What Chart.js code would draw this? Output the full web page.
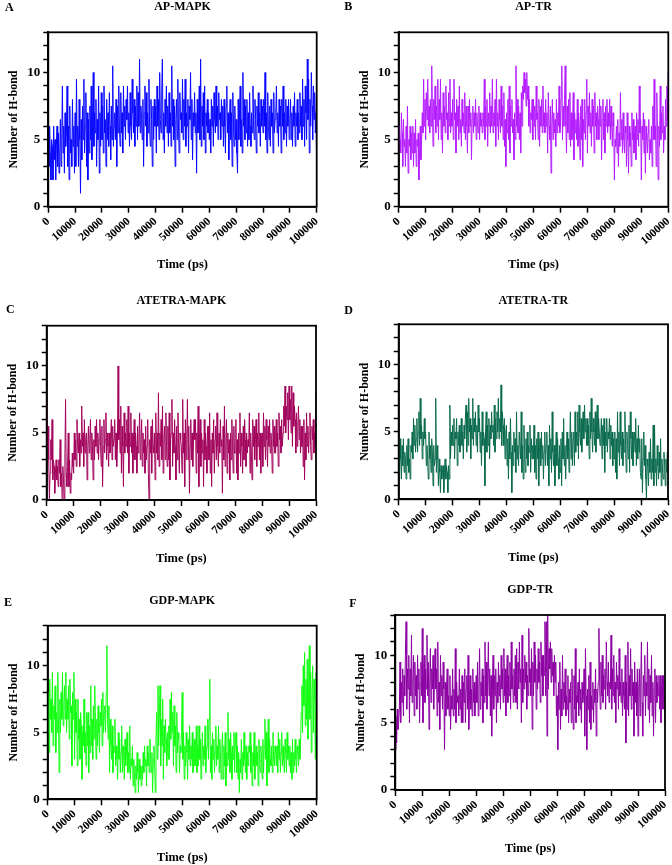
<!DOCTYPE html>
<html><head><meta charset="utf-8">
<script src="https://cdn.jsdelivr.net/npm/chart.js@4.4.1/dist/chart.umd.min.js"></script>
<style>
html,body{margin:0;padding:0;background:#fff;}
body{width:672px;height:865px;position:relative;overflow:hidden;}
canvas{position:absolute;}
.lbl{position:absolute;font-family:"Liberation Serif","Times New Roman",serif;font-weight:bold;font-size:12px;line-height:14px;color:#000;white-space:nowrap;}
</style></head><body>
<script>
// ---------------- DATA ----------------
const timeStepPs = 250;                 // sampling interval of the series (ps)
const xTickValues = [0,10000,20000,30000,40000,50000,60000,70000,80000,90000,100000];
const yTickValues = [0,1,2,3,4,5,6,7,8,9,10,11,12,13];
const yLabeledTicks = [0,5,10];
const panelLetters = ['A','B','C','D','E','F'];
const panelTitles = ['AP-MAPK','AP-TR','ATETRA-MAPK','ATETRA-TR','GDP-MAPK','GDP-TR'];
const xAxisTitle = 'Time (ps)';
const yAxisTitle = 'Number of H-bond';

const apMapk = [
5,3,6,4,2,5,4.5,2,6,3.5,5,2,4.5,6,3,5.5,2.5,4,6.5,3,
5,9,4,6,2.5,7,4.5,5.5,9,3,6,2,7.5,4,5,3,8,4.5,6,2.5,
7,3,9.5,4.5,6,3,8,5,1,6.5,3.5,7.5,5,9.5,4,6,8.5,3,7,2,
6.5,4,7.5,5,9,3.5,6,10,4.5,7,5.5,8,3,6.5,5,9,2.5,7,4.5,8.5,
5,7.5,4,9,5.5,6.5,3,8,5,7,4.5,8.5,6,3.5,7.5,5,10.5,4.5,6,7,
5,8,3,7.5,5.5,9,6,4.5,8.5,5.5,7,4,9,6,7.5,5,8,6.5,9,5.5,
7,4.5,8.5,6,5,9.5,7,5.5,8,4.5,7.5,6,9,5,8.5,6,11,5.5,7.5,6.5,
5,8,3,7,9,6,8.5,4.5,7,5.5,9.5,6,4.5,8,6.5,3,7.5,5,8,6,
7.5,4,9,6,8,5,10,6.5,5.5,8.5,11,5,7,4,8,6,9,5.5,7.5,4.5,
8.5,5.5,7,4.5,10.5,6,8,5,7.5,3,6.5,8,5,9.5,6,4,8.5,6.5,7,5.5,
9.5,5,8,6,9.5,4.5,7,6,8,4,7.5,6.5,10,5,8,3.5,7,6,8.5,5.5,
7,2.5,8,5.5,6.5,9,5,11,4.5,7.5,6,8.5,5,9,4,7,6,8,5.5,7,
5,6.5,4,8,6,7.5,4.5,8.5,6.5,5.5,9,6,7.5,5,8.5,6.5,7,5,8,6,
7.5,4.5,8,6,4,7.5,9,5.5,7,3.5,6.5,8,5,7,3,8.5,6,4.5,7.5,5,
6.5,4,2.5,8,5,7,9,4.5,6.5,4,10,6,8,5,7.5,5.5,8,4.5,7,5,
8.5,6,4.5,7,5.5,9,6,5,8,6.5,4,7.5,6,8.5,5.5,7,4.5,8,6,7.5,
5.5,8,6,10,5,7,4,8.5,6,5,7.5,4.5,8,6,7,4,8.5,5.5,6.5,7,
9,5.5,7,4.5,8,6,7.5,4,8,6,9,5,7,5.5,8,4.5,7.5,6,8,5,
6.5,8,5,7,4.5,7.5,6,8.5,4.5,7,6,8,5,7,5.5,8.5,6,7.5,5,9.5,
6,8,4.5,9,7,5,11,6.5,9.5,4,8,6,10,7.5,5,9,6.5,8.5,5.5,7,
3];

const apTr = [
4,6,5,4,7,5.5,3,6.5,4.5,5,3,6,4,7.5,2.5,5,4.5,6,3.5,5.5,
4,6,3,5.5,4,6.5,3,5,4.5,5.5,2,4,6,3.5,5,7,5.5,9.5,6,8,
5,8.5,6.5,9.5,6,7.5,5.5,8,6,10.5,7,4.5,8,6.5,9,5.5,7.5,6,9.5,5,
8,6.5,9.5,5,7,4,8.5,6,7.5,5.5,9,6.5,7,5,8.5,6,9.5,5.5,7,6,
8,5,9.5,6.5,7,4,8,6,7.5,5,9,5.5,6.5,4.5,8,6,7,5.5,8.5,5,
7.5,6,4,7.5,5.5,8,6,7,3.5,6.5,7.5,5.5,7,6,8,5,7,6,5.5,7.5,
5,7,6,6.5,5.5,7,6,9.5,5,7.5,6,8,4.5,7,6,8.5,5.5,7.5,6,9.5,
5.5,7,6,8,4.5,9.5,6,7,5,8,6.5,5.5,9,6,7.5,5,8.5,4.5,6.5,3,
7,5.5,8,5,9,4,7.5,6,8,5.5,6.5,3.5,7,5,10.5,6,8,5.5,7.5,5,
7,4,8.5,6,9,8,10,8.5,9.5,7.5,10,8,9,6,8,5.5,7,6.5,8,5,
8,6,7.5,5,9,6.5,7,5,8,4.5,7.5,6,8,5.5,9,6,7,5.5,8,6,
7,4,8.5,6,5,7.5,2.5,6,8,5,7,5.5,6.5,4.5,8,5.5,7,6,9,5.5,
6,8,10.5,5,7.5,6,8,10.5,6,4,7.5,5.5,8,5,8.5,4.5,7,5,6.5,8.5,
3.5,7,5.5,6.5,5,8,4.5,7,6,3.5,7.5,5,8,3,6.5,5.5,8,5,7,9.5,
4,7.5,6,8.5,5.5,7,4.5,8,6,7.5,4,8.5,6,7,5,7.5,6.5,5,8,6,
7.5,3.5,6.5,8,5,7,4,7.5,6,8,5.5,7,6,8,5,7.5,6,4.5,7,6,
2,5,4.5,6,4,6.5,3,5.5,4.5,8.5,5,6.5,4,7,5,4,6,5.5,3,7,
5,2.5,6,4.5,5.5,3,7,5,6.5,4,5.5,6,3.5,7,5,6.5,4.5,9,5.5,6.5,
2,6,5,7,4,6.5,2.5,6,5,4,5.5,6.5,3.5,5,4,6,3,7.5,5,9.5,
5,6,3,8.5,5.5,2,6,4.5,9,5,7,5.5,7.5,4,6,5,8,6,9,6.5,
10];

const atetraMapk = [
7.5,4,5.5,3,0,2,4.5,3,6,1.5,3,2.5,0.5,2,3,1.5,2.5,1,3,2,
4.5,1,2,0,2.5,1.5,0,3,7.5,2,1,2.5,5,1,3,0.5,2,1.5,3.5,2.5,
2,5,3,4.5,2.5,6,4,3.5,5,2.5,4.5,3.5,7,4,5,2.5,6,3.5,4.5,5,
1.5,4,5.5,3.5,4.5,6,3,5,4,1.5,4.5,3,5.5,4,6,3.5,5,3,4.5,6,
4,2.5,5.5,1,4,6,3.5,4.5,6.5,3,5,4,2.5,5,3.5,4.5,6,3,5.5,4,
4.5,6,3,5,2.5,4,10,4.5,6,3.5,7,2,5.5,4,1,6.5,3.5,5,4,6,
3.5,7,2,5,4,6.5,3.5,5,2,4.5,6,3,5,4,2,5.5,3.5,4.5,6.5,3,
4.5,6,2.5,5,3.5,4.5,2,5.5,3,4,6,2,0,4.5,3.5,5.5,2,6,4,3.5,
5,1.5,6.5,3.5,5,3,8,2.5,5,4,6,3,7,2,4.5,5.5,3,6.5,4,2.5,
5.5,3,6.5,1.5,4.5,5,7.5,2.5,5,3.5,6,4,1.5,5.5,3,6.5,4,2,5,4.5,
4,2,7.5,3.5,5,1,6,3,4.5,7.5,3,5.5,0.5,4,6,3,5,2.5,4.5,6,
4.5,6,2,5,3.5,7,1,4.5,6,2.5,5,3.5,4.5,1,6,3,5,4,2,5.5,
5.5,3,6.5,2,4.5,1,5,3.5,6,2,4.5,5.5,3,6.5,4,2.5,5,3.5,6,4,
4.5,0.5,5.5,3,7,2.5,4,6,2,5,3.5,4.5,1.5,5,3,6,4,2,5.5,3.5,
3.5,6,2,4.5,1.5,5,3.5,6.5,2.5,5,4,2,5.5,3,6,4.5,2.5,5,3.5,4.5,
4,6.5,2,5,3.5,1.5,6,4,5.5,3,4.5,6,2.5,5,4,6.5,3,5,2,4.5,
5,2.5,6.5,4,5.5,3,6,4.5,2.5,5.5,4,6,3.5,5,4.5,2,6,4,5.5,3.5,
3.5,6,4,5,2.5,6.5,4.5,5.5,3.5,6,4,5,7,5.5,8.5,5,7,6,8,4.5,
8.5,6,7.5,5,8.5,4,8,5.5,7,6,3.5,6.5,4,5.5,7,4.5,6,3.5,5.5,4,
5.5,2.5,6,1.5,5,3,6.5,4,5.5,3.5,5,6.5,4,3,5.5,4.5,6,3.5,5,4,
8];

const atetraTr = [
3.5,2,4.5,3,1.5,4,2.5,4.5,2,3.5,3,1.5,4,2.5,4.5,2,3,1.5,4,3.5,
5,3,6,4,5.5,3.5,4.5,6,3.5,5,6.5,4,7.5,4.5,5.5,3,5,4,6,4.5,
5,2.5,4,3,1.5,5,3,4,2,4.5,3.5,1,4,2.5,3,7.5,2,4,3,1,
3,2,0.5,2.5,1.5,2,2.5,0.5,2,3,1.5,2.5,2,0.5,2.5,1.5,7,3,5,4,
5.5,4,6,3,5,4.5,6,2.5,5,4,5.5,3.5,4.5,6,4,5,3,5.5,4.5,6,
7,3.5,6.5,4,7.5,5,6,3,5.5,4.5,7.5,4,6,5,6.5,4,5.5,3.5,7,5,
6,3.5,5,2.5,6.5,4,5,4.5,1,5,6.5,3.5,5.5,4,6,3,5.5,4.5,6.5,5,
5.5,4,7,3.5,6,4.5,6.5,5,7.5,4.5,6,5,8.5,4,6.5,5.5,4,6,3,5,
5.5,2.5,4.5,1.5,5,3,6,3.5,0.5,4,2.5,5,3.5,4.5,2,6.5,3,4,2.5,5,
5,3,6.5,2,4,1.5,5.5,3.5,2,4.5,3,5,2.5,4,3.5,5.5,2,4.5,3,4,
3,5.5,2,4,1.5,4.5,3,5,1,3.5,4.5,2.5,5,3,4,1.5,3.5,5,2.5,4,
5,2.5,4,1,5.5,3,4.5,2,6.5,3.5,2.5,4,1,3.5,5,2.5,4.5,3,1.5,4,
2,4.5,1,5,3,6,2.5,4,1.5,3.5,5,3,4.5,2,4,6.5,3,5,2.5,4.5,
5,2.5,6.5,3.5,5,4,6.5,3,7,5,4,6,3.5,5.5,6.5,4.5,7,5,6,4,
6,4,5.5,3,6.5,4.5,7.5,5,3.5,6,5,4,6.5,3.5,5.5,7,4.5,6,5,4,
4.5,6,3,5.5,4,6,2,5,4,6,3.5,5,4.5,6,3,5.5,4,5,2.5,4.5,
3,5,2,4.5,1.5,6.5,3.5,5,2.5,6.5,4,3,5,2.5,4.5,3.5,6.5,4,2,5,
4,3,5.5,2,6.5,4.5,3,5,2.5,4,5,3.5,6,2.5,4.5,3,5.5,3.5,4.5,2,
1.5,4.5,0.5,3,5,2.5,4,1.5,0,3,2.5,1,3.5,2,4.5,1.5,3,2,5.5,1,
5.5,2,3,1,4,2.5,1.5,3.5,2,4.5,1,3,2,1.5,3.5,2.5,1,3,2,3.5,
3];

const gdpMapk = [
4,8,3.5,9,6,7.5,5,9.5,4,7,6,8.5,3.5,6.5,5,9.5,6,2,7.5,5,
8,6,9.5,5.5,7,8.5,6,9.5,5,7.5,6,8.5,4.5,9,6.5,7,2.5,8,6,9.5,
3,7.5,5,6.5,2.5,7.5,4.5,6,3,6.5,5.5,1.5,5,4,7.5,3.5,5,2.5,6.5,4,
6.5,2,5.5,3.5,8.5,4,6,3,7,4.5,8.5,5.5,3,6,4,7,5,3.5,6.5,5.5,
7.5,4,8,5,6.5,7,5,8,11.5,6,4.5,7,2,6,4,3,5.5,2,4,3.5,
6,2.5,4,3,1.5,5,3,4.5,2,3.5,5.5,2,4,3,1.5,4.5,2.5,3.5,5,2,
3.5,2,5.5,1.5,3,2.5,4,1,3,2,0.5,2.5,1.5,3.5,2,0.5,3,1.5,2.5,1,
2.5,1.5,3.5,2,4,2.5,3,1,4,2.5,3.5,2,4.5,3,2,3.5,0.5,3,4,2.5,
0.5,4.5,6.5,3,8.5,4,6,8.5,2.5,6,4,7.5,1.5,5.5,3.5,6,4.5,2.5,5,3,
5.5,3,7.5,4.5,8,5,6.5,2.5,7,4,5.5,2,6.5,3.5,5,4.5,2,4,3.5,5,
8,3,5,1.5,4,2.5,5,3.5,1.5,4.5,3,5.5,2.5,4,3,5,2,3.5,4.5,2.5,
3,5.5,2,4,2.5,5.5,3,4.5,1.5,3.5,5,2.5,4,3,5.5,2,3.5,4,6,3,
6,9,2,4,1.5,5,3,4.5,2,3.5,5.5,2.5,4,3,5.5,2,4.5,3,1.5,4,
5,1.5,4,2.5,5,1,3.5,2.5,6.5,3,4.5,2,5,3.5,1.5,4,3,5,2,4.5,
5,2,4,1.5,3.5,0.5,3,2,4.5,1.5,3.5,2.5,5,3,2,4,1.5,3.5,2.5,4,
3.5,5,2,4,1,3.5,2.5,5,1.5,3,4,2.5,3.5,1,4.5,3,2,4,3,1.5,
4.5,2,4,6,3,5,1,3.5,6,2,4.5,3,2.5,4,2,5,3,2.5,4,3.5,
2.5,4,2,5,3,4.5,2,3.5,5,2.5,4,3,2,4.5,3.5,2,5,3,4,2.5,
4,2,3.5,1.5,4.5,2,3.5,2.5,4.5,3,2,4,3.5,2.5,4.5,3,4,6.5,8.5,5,
10,7,11,5.5,9,6,10.5,4.5,8,11.5,6,9.5,3.5,8,10,5,9,7.5,3,9.5,
6.5];

const gdpTr = [
3,5.5,3.5,6,4.5,5,6,9.5,5,8,6.5,9,5.5,8.5,7,10,12.5,6,9,7.5,
10,5,9,7,11.5,6.5,8,10,5.5,9.5,7,8.5,6,10,7.5,9,5,8,9.5,7,
12,5,8.5,10,6.5,9,7.5,11.5,7,9.5,4.5,8,10.5,6.5,9,7.5,10,6,8.5,10.5,
7.5,9,5.5,11,6.5,8,4.5,10,7,8.5,6,9.5,7.5,3,8,5.5,7.5,9,6,7,
5.5,8.5,4.5,7,6,9,5.5,7.5,6,10.5,5,8,6.5,7,5.5,9,6,7.5,5,8.5,
5,8,6.5,9,5,7.5,8.5,6,10,4.5,7,8.5,6,7.5,5.5,9,6.5,8,5.5,7,
8.5,6.5,9.5,5.5,7.5,10.5,6,8,7,9,5,8.5,6.5,11,7,9.5,6,8,11,7,
9,5.5,8.5,4,7.5,10,6,8.5,7,9,5,8,6.5,9.5,7,8.5,6,10,7.5,9,
6.5,10.5,7,9,5.5,8,10,6.5,8.5,7,9.5,6,11,7.5,8.5,6.5,9,7,10,6.5,
10.5,6,9.5,7.5,11,8,9,5,11.5,6.5,9,7.5,10,8,9.5,6,8.5,7,12,8,
9,7,10.5,4.5,9.5,7,11,8,10,6,9,7.5,10.5,8,9.5,6.5,11,8.5,10,7,
10,8.5,12.5,7,12.5,4,13,7.5,10.5,9,11,8,10.5,8.5,9.5,7,10,8,9.5,5.5,
7,3,8,6,9.5,4.5,7.5,5.5,10,6,8,6.5,9,5.5,7,6,8.5,5,7.5,6.5,
8,5,9,6.5,4.5,8.5,6,10.5,5,7,6.5,8,5.5,9,6,7.5,5,8,6.5,7,
9,4,10.5,7,3,7.5,6,8.5,5,9.5,4.5,7,6,8,5,7.5,6.5,9,4,7.5,
6.5,8,12,8,6,9.5,7,10,6.5,8.5,7.5,9,6,11,8,7,9.5,6.5,8,7.5,
11.5,6,9,7,10,6.5,8,5,9.5,7.5,8.5,6,10.5,7,8,6.5,9,5.5,8,7,
6,10,3.5,8,6,11,5.5,8.5,7,10.5,6,9,7,8,4,9.5,6.5,8,5.5,9,
4,7.5,9,5.5,8,11,6.5,4,8.5,7,10,5.5,8,7,11,6,9,5,8.5,6.5,
10,5.5,8,4,7.5,9,5,8.5,6.5,8,7,8.5,6,8.5,5,7.5,8.5,6,8.5,7,
5];

const seriesList = [apMapk, apTr, atetraMapk, atetraTr, gdpMapk, gdpTr];
const seriesColors = ['#0808ff','#b41eff','#a2055d','#0b6b4d','#12ff12','#8c02a3'];

// ---------------- LAYOUT (plot-area rectangles in page px) ----------------
const panels = [
  {col:0,   L:48.3,  R:316.7, T:32.3,  B:206.7, titleY:7.3,   letterX:5,     letterY:7},
  {col:336, L:398.7, R:668.3, T:32.3,  B:206.7, titleY:7.3,   letterX:344.3, letterY:6},
  {col:0,   L:46.7,  R:316,   T:325.7, B:500,   titleY:300.8, letterX:6,     letterY:309},
  {col:336, L:398.7, R:668,   T:324.3, B:499.3, titleY:300.8, letterX:344.3, letterY:309.7},
  {col:0,   L:47.7,  R:316.7, T:625.7, B:799.3, titleY:600.8, letterX:4,     letterY:602},
  {col:336, L:395.3, R:665,   T:615,   B:790,   titleY:590.3, letterX:349.3, letterY:602.7}
];
const FONT = '"Liberation Serif","Times New Roman",serif';
const TITLE_SIZE = 12, TITLE_LH = TITLE_SIZE*1.2;
const YT_SIZE = 12, YT_LH = YT_SIZE*1.2;
const XT_SIZE = 12.5, XT_LH = XT_SIZE*1.2;
const Y_TITLE_OFFSET = 34;   // plot left -> y title centre
const X_TITLE_OFFSET = 58.3; // plot bottom -> x title centre
const W_Y = Y_TITLE_OFFSET + YT_LH/2;
const H_X = X_TITLE_OFFSET + XT_LH/2;

const framePlugin = {
  id:'frame',
  afterDatasetsDraw(chart){
    const {ctx, chartArea:a} = chart;
    ctx.save();
    ctx.strokeStyle = '#000';
    ctx.lineWidth = 1.8;
    ctx.strokeRect(a.left, a.top, a.right - a.left, a.bottom - a.top);
    ctx.restore();
  }
};

panels.forEach((p, i) => {
  const boxTop = p.titleY - TITLE_LH/2;
  const titlePadBottom = p.T - boxTop - TITLE_LH;
  const cTop = Math.floor(boxTop);
  const cBottom = Math.ceil(p.B + H_X + 2);
  const canvas = document.createElement('canvas');
  canvas.width = 336; canvas.height = cBottom - cTop;
  canvas.style.left = p.col + 'px';
  canvas.style.top = cTop + 'px';
  canvas.style.width = '336px';
  canvas.style.height = (cBottom - cTop) + 'px';
  document.body.appendChild(canvas);

  const letter = document.createElement('div');
  letter.className = 'lbl';
  letter.textContent = panelLetters[i];
  letter.style.left = p.letterX + 'px';
  letter.style.top = (p.letterY - 7) + 'px';
  document.body.appendChild(letter);

  const points = seriesList[i].map((v, k) => ({x: k*timeStepPs, y: v}));

  new Chart(canvas, {
    type: 'line',
    data: { datasets: [{
      data: points, borderColor: seriesColors[i], borderWidth: 1,
      pointRadius: 0, tension: 0, fill: false
    }]},
    options: {
      responsive: false, animation: false, devicePixelRatio: 1,
      layout: { padding: {
        left: p.L - p.col - W_Y,
        right: p.col + 336 - p.R,
        top: boxTop - cTop,
        bottom: cBottom - (p.B + H_X)
      }},
      plugins: {
        legend: {display:false},
        tooltip: {enabled:false},
        title: {
          display: true, text: panelTitles[i], fullSize: false, color: '#000',
          font: {family: FONT, size: TITLE_SIZE, weight: 'bold', lineHeight: 1.2},
          padding: {top: 0, bottom: titlePadBottom}
        }
      },
      scales: {
        x: {
          type: 'linear', min: 0, max: 100000,
          afterBuildTicks: s => { s.ticks = xTickValues.map(v => ({value: v})); },
          afterFit: s => { s.height = H_X; s.paddingLeft = 0; s.paddingRight = 0; },
          ticks: {
            autoSkip: false, minRotation: 42, maxRotation: 42, padding: 2, color: '#000',
            font: {family: FONT, size: 11.5, weight: 'bold'},
            callback: v => String(v)
          },
          grid: {drawOnChartArea: false, drawTicks: true, tickLength: 6, tickWidth: 1.5, tickColor: '#000'},
          border: {display: true, color: '#000', width: 1.8},
          title: {display: true, text: xAxisTitle, color: '#000', padding: 0,
            font: {family: FONT, size: XT_SIZE, weight: 'bold', lineHeight: 1.2}}
        },
        y: {
          type: 'linear', min: 0, max: 13,
          afterBuildTicks: s => { s.ticks = yTickValues.map(v => ({value: v})); },
          afterFit: s => { s.width = W_Y; },
          ticks: {
            autoSkip: false, padding: 3, color: '#000',
            font: {family: FONT, size: 13, weight: 'bold'},
            callback: v => yLabeledTicks.includes(v) ? String(v) : ''
          },
          grid: {drawOnChartArea: false, drawTicks: true, tickLength: 5, tickWidth: 1.5, tickColor: '#000'},
          border: {display: true, color: '#000', width: 1.8},
          title: {display: true, text: yAxisTitle, color: '#000', padding: 0,
            font: {family: FONT, size: YT_SIZE, weight: 'bold', lineHeight: 1.2}}
        }
      }
    },
    plugins: [framePlugin]
  });
});
</script>
</body></html>
